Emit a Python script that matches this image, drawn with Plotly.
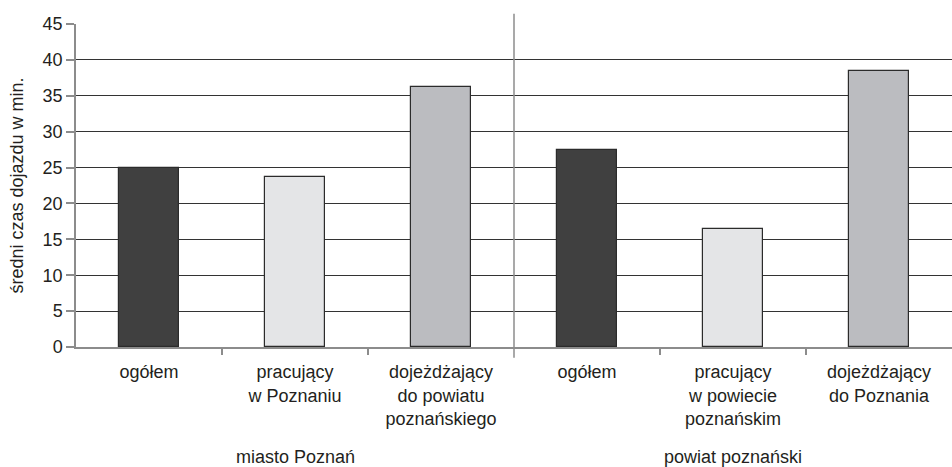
import plotly.graph_objects as go

# Średni czas dojazdu do pracy (min.)
categories = [
    "ogółem",
    "pracujący<br>w Poznaniu",
    "dojeżdżający<br>do powiatu<br>poznańskiego",
    "ogółem",
    "pracujący<br>w powiecie<br>poznańskim",
    "dojeżdżający<br>do Poznania",
]
values = [25.0, 23.7, 36.2, 27.4, 16.4, 38.4]
groups = ["miasto Poznań", "powiat poznański"]
bar_colors = ["#404040", "#e4e5e7", "#bbbcc0", "#404040", "#e4e5e7", "#bbbcc0"]
y_ticks = [0, 5, 10, 15, 20, 25, 30, 35, 40, 45]

positions = [i + 0.5 for i in range(len(categories))]
per_group = len(categories) // len(groups)
boundaries = [i for i in range(1, len(categories)) if i % per_group != 0]
group_split = per_group
group_centers = [g * per_group + per_group / 2 for g in range(len(groups))]

font_main = dict(family="Liberation Sans, Arial, sans-serif", size=18, color="#231f20")
axis_grey = "#8c8c8c"

fig = go.Figure()
fig.add_trace(go.Bar(
    x=positions,
    y=values,
    width=0.41,
    marker=dict(color=bar_colors, line=dict(color="#2b2b2b", width=1.2)),
    showlegend=False,
    hoverinfo="y",
))

# invisible trace so the secondary x axis (boundary ticks) is drawn
fig.add_trace(go.Scatter(x=[0, len(categories)], y=[0, 0], xaxis="x2",
                         mode="markers", marker=dict(opacity=0), showlegend=False,
                         hoverinfo="skip"))

fig.update_layout(
    width=952, height=467,
    margin=dict(l=76, r=0, t=23.5, b=120),
    plot_bgcolor="white", paper_bgcolor="white",
    font=font_main,
    bargap=0,
    xaxis=dict(
        range=[0, len(categories)],
        tickvals=positions, ticktext=categories,
        ticks="", showgrid=False, zeroline=False,
        showline=True, linecolor=axis_grey, linewidth=1.5,
        tickfont=font_main, ticklabelstandoff=8,
    ),
    xaxis2=dict(
        range=[0, len(categories)], overlaying="x", side="bottom", anchor="y",
        tickvals=boundaries, ticks="outside", ticklen=7, tickcolor=axis_grey,
        tickwidth=1.5, showticklabels=False, showgrid=False, zeroline=False,
        showline=False,
    ),
    yaxis=dict(
        range=[0, 45], tickvals=y_ticks,
        ticks="outside", ticklen=8, tickcolor=axis_grey, tickwidth=1.5,
        showgrid=True, gridcolor="#333333", gridwidth=1.2,
        zeroline=False, showline=True, linecolor=axis_grey, linewidth=1.5,
        tickfont=font_main,
        title=dict(text="średni czas dojazdu w min.", font=font_main, standoff=14),
    ),
)

# vertical separator between the two groups
fig.add_shape(type="line", xref="x", yref="paper", x0=group_split, x1=group_split,
              y0=-0.033, y1=1.032, line=dict(color=axis_grey, width=1.5))

for name, cx in zip(groups, group_centers):
    fig.add_annotation(text=name, x=cx, xref="x", y=-0.342, yref="paper",
                       showarrow=False, yanchor="middle", font=font_main)

fig.write_html("out.html")
